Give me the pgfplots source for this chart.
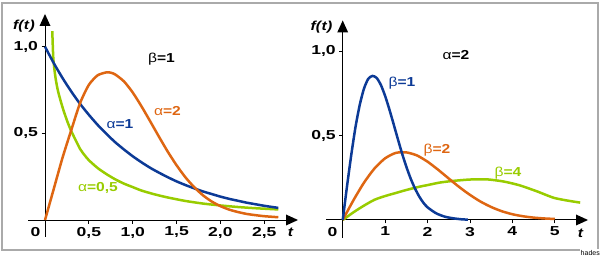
\documentclass[border=0pt]{standalone}
\usepackage{pgfplots}
\pgfplotsset{compat=1.18}
\usepackage{fontspec}
\setmainfont{Liberation Sans}
\newfontfamily\widefont{Liberation Sans}[FakeStretch=1.35]
\newfontfamily\midfont{Liberation Sans}[FakeStretch=1.2]
\definecolor{cblue}{RGB}{12,58,150}
\definecolor{corange}{RGB}{222,102,18}
\definecolor{cgreen}{RGB}{152,204,0}
\definecolor{cframe}{RGB}{170,170,170}
\newcommand{\lbl}{\midfont\bfseries\fontsize{13}{13}\selectfont}
\newcommand{\tl}[1]{{\widefont\bfseries\fontsize{13}{13}\selectfont #1}}
\pgfplotsset{
  wb/.style={
    axis lines=middle,
    axis line style={line width=1pt,-},
    every inner x axis line/.append style={-},
    every inner y axis line/.append style={-},
    tick style={black,line width=0.8pt},
    tick align=outside,
    major tick length=3.5pt,
    /pgf/number format/assume math mode=true,
    scale only axis,
    clip=false,
    anchor=south west,
  },
  cur/.style={line width=2.5pt,line join=round,smooth,tension=0.4},
}
\begin{document}
\begin{tikzpicture}
\useasboundingbox (0,0) rectangle (602pt,256pt);
\draw[cframe,line width=2pt] (2pt,253pt) rectangle (598pt,6pt);

% left panel
\begin{axis}[wb,
  at={(28pt,19pt)},
  x=87.7pt, y=173.3pt,
  xmin=-0.194, xmax=2.80, ymin=-0.098, ymax=1.13,
  xtick={0.5,1,1.5,2,2.5},
  xticklabels={{\tl{0,5}},{\tl{1,0}},{\tl{1,5}},{\tl{2,0}},{\tl{2,5}}},
  ytick={0.5,1},
  yticklabels={{\tl{0,5}},{\tl{1,0}}},
]
\addplot[cur,cgreen] coordinates {(0.083,1.09) (0.095,0.93) (0.12,0.82) (0.15,0.74) (0.2,0.65) (0.25,0.575) (0.293,0.52) (0.35,0.46) (0.4,0.41) (0.45,0.375) (0.5,0.345) (0.6,0.3) (0.7,0.265) (0.8,0.235) (0.9,0.21) (1.0,0.19) (1.1,0.17) (1.25,0.148) (1.4,0.13) (1.6,0.11) (1.8,0.095) (2.0,0.084) (2.2,0.075) (2.4,0.068) (2.66,0.061)};
\addplot[cur,cblue] coordinates {(0,1) (0.1,0.905) (0.2,0.819) (0.3,0.741) (0.4,0.670) (0.5,0.607) (0.6,0.549) (0.7,0.497) (0.8,0.449) (0.9,0.407) (1.0,0.368) (1.1,0.333) (1.2,0.301) (1.3,0.273) (1.4,0.247) (1.5,0.223) (1.6,0.202) (1.7,0.183) (1.8,0.165) (1.9,0.150) (2.0,0.135) (2.1,0.122) (2.2,0.111) (2.3,0.100) (2.4,0.091) (2.5,0.082) (2.66,0.070)};
\addplot[cur,corange] coordinates {(0,0) (0.05,0.09) (0.1,0.18) (0.2,0.36) (0.3,0.52) (0.4,0.675) (0.5,0.78) (0.6,0.835) (0.7,0.852) (0.75,0.85) (0.8,0.84) (0.9,0.80) (1.0,0.736) (1.1,0.656) (1.2,0.569) (1.3,0.480) (1.4,0.394) (1.5,0.316) (1.6,0.247) (1.7,0.19) (1.8,0.143) (1.9,0.107) (2.0,0.08) (2.1,0.06) (2.2,0.046) (2.3,0.035) (2.4,0.028) (2.5,0.022) (2.66,0.016)};
\end{axis}

% right panel
\begin{axis}[wb,
  at={(326.2pt,18pt)},
  x=42.4pt, y=168.5pt,
  xmin=-0.39, xmax=5.62, ymin=-0.107, ymax=1.13,
  xtick={1,2,3,4,5},
  xticklabels={{\tl{1}},{\tl{2}},{\tl{3}},{\tl{4}},{\tl{5}}},
  ytick={0.5,1},
  yticklabels={{\tl{0,5}},{\tl{1,0}}},
]
\addplot[cur,cgreen] coordinates {(0,0) (0.25,0.045) (0.5,0.085) (0.75,0.12) (1.0,0.142) (1.25,0.16) (1.5,0.178) (1.82,0.198) (2.0,0.207) (2.29,0.222) (2.61,0.232) (3.0,0.24) (3.4,0.241) (3.8,0.228) (4.18,0.205) (4.6,0.168) (4.97,0.132) (5.3,0.115) (5.6,0.103)};
\addplot[cur,corange] coordinates {(0,0) (0.25,0.116) (0.5,0.221) (0.75,0.306) (1.0,0.366) (1.25,0.398) (1.5,0.401) (1.75,0.383) (2.0,0.346) (2.25,0.298) (2.5,0.246) (2.75,0.195) (3.0,0.149) (3.25,0.109) (3.5,0.077) (3.75,0.052) (4.0,0.034) (4.25,0.022) (4.5,0.014) (4.75,0.009) (5.0,0.006)};
\addplot[cur,cblue] coordinates {(0,0) (0.1,0.198) (0.2,0.384) (0.3,0.55) (0.4,0.682) (0.5,0.779) (0.6,0.837) (0.7,0.855) (0.8,0.843) (0.9,0.801) (1.0,0.736) (1.1,0.656) (1.2,0.569) (1.3,0.48) (1.4,0.394) (1.5,0.316) (1.6,0.247) (1.7,0.189) (1.8,0.141) (1.9,0.103) (2.0,0.075) (2.2,0.04) (2.4,0.02) (2.6,0.01) (2.8,0.004) (2.95,0.002)};
\end{axis}

% arrow heads of the axes
\fill[black] (298pt,36pt) -- (286pt,30.5pt) -- (286pt,41.5pt) -- cycle;
\fill[black] (45pt,242pt) -- (39.5pt,230pt) -- (50.5pt,230pt) -- cycle;
\fill[black] (588pt,36pt) -- (576pt,30.5pt) -- (576pt,41.5pt) -- cycle;
\fill[black] (342.7pt,235.5pt) -- (337.2pt,223.5pt) -- (348.2pt,223.5pt) -- cycle;

% texts
\node[font=\lbl\itshape] at (24pt,230pt) {f(\kern0.5pt t\kern0.5pt)};
\node[font=\lbl\itshape] at (321.5pt,228.5pt) {f(\kern0.5pt t\kern0.5pt)};
\node[font=\lbl\itshape] at (290.5pt,23.5pt) {t};
\node[font=\lbl\itshape] at (580.5pt,23pt) {t};
\node at (35.5pt,24.3pt) {\tl{0}};
\node at (332.5pt,24pt) {\tl{0}};
\node[font=\lbl] at (161.5pt,197pt) {\mdseries β\bfseries =1};
\node[font=\lbl] at (456pt,200.5pt) {\mdseries α\bfseries =2};
\node[font=\lbl,text=cblue] at (120pt,132pt) {\mdseries α\bfseries =1};
\node[font=\lbl,text=corange] at (167.5pt,145pt) {\mdseries α\bfseries =2};
\node[font=\lbl,text=cgreen] at (98pt,68.5pt) {\mdseries α\bfseries =0,5};
\node[font=\lbl,text=cblue] at (402pt,173pt) {\mdseries β\bfseries =1};
\node[font=\lbl,text=corange] at (437pt,106pt) {\mdseries β\bfseries =2};
\node[font=\lbl,text=cgreen] at (508pt,82.5pt) {\mdseries β\bfseries =4};
\node[fill=white,inner sep=1pt,anchor=north east,font=\fontsize{7}{7}\selectfont] at (601pt,7pt) {hades};
\end{tikzpicture}
\end{document}
